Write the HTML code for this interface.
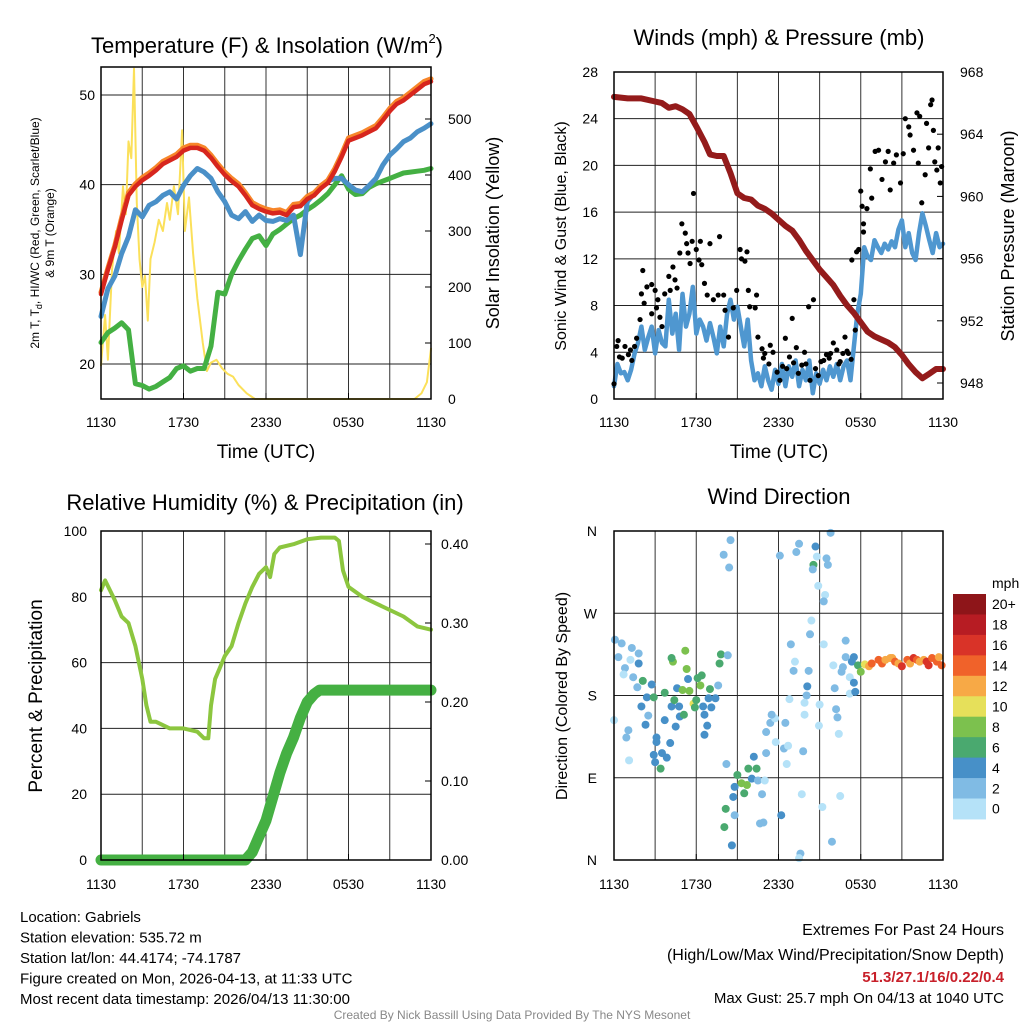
<!DOCTYPE html>
<html><head><meta charset="utf-8"><style>
html,body{margin:0;padding:0;background:#fff;}
svg{display:block;font-family:"Liberation Sans",sans-serif;}
</style></head><body>
<svg id="c" width="1024" height="1024" viewBox="0 0 1024 1024" xmlns="http://www.w3.org/2000/svg"></svg>
<script>
// ---------- DATA ----------
const hourTicks = ["1130","1730","2330","0530","1130"];
const tempTicks = [20,30,40,50];
const solarTicks = [0,100,200,300,400,500];
const windTicks = [0,4,8,12,16,20,24,28];
const presTicks = [948,952,956,960,964,968];
const rhTicks = [0,20,40,60,80,100];
const precTicks = [0,0.1,0.2,0.3,0.4];
const precTickLabels = ["0.00","0.10","0.20","0.30","0.40"];
const dirTicks = [0,90,180,270,360];
const dirTickLabels = ["N","E","S","W","N"];
const speedBinLabels = ["0","2","4","6","8","10","12","14","16","18","20+"];
const speedColors = ["#b5e2f8","#80bbe4","#4790c8","#4aa96f","#7cc14e","#e6e05a","#f7a946","#f0622a","#d93328","#b71c23","#8e1519"];

// temperature series, every 0.5 h from 1130
const tempRed = [27.8,30.5,33,36,38.8,39.8,40.5,41,41.6,42.3,42.7,43.1,43.8,44.1,44.1,43.8,43,42,41.1,40.4,39.8,38.8,37.7,37.3,37,36.8,36.9,36.6,37.5,37.6,38.4,38.8,39.6,40.2,41.5,43.1,44.9,45.2,45.5,45.9,46.3,47.2,48.2,49,49.4,50,50.6,51.2,51.5];
const tempOrange = [28,30.7,33.2,36.3,39.1,40.1,40.8,41.3,41.9,42.6,43,43.4,44.1,44.4,44.4,44.1,43.3,42.3,41.4,40.7,40.1,39.1,38,37.6,37.3,37.1,37.2,36.9,37.8,37.9,38.7,39.1,39.9,40.5,41.8,43.4,45.2,45.5,45.8,46.2,46.6,47.5,48.5,49.3,49.7,50.3,50.9,51.5,51.8];
const tempBlue = [25.3,28.4,29.8,32.3,34.2,37.2,36.4,37.7,38.1,38.8,39.2,38.4,39.9,41,41.8,41.4,40.7,39.2,38.1,36.6,36.2,37,35.9,36.6,36,35.9,36.2,36,36.6,32.2,38.1,39,39.9,40.4,40.7,40.7,40,39.4,39.2,39.9,40.7,42.2,43.3,44,44.8,45.2,45.9,46.3,46.8];
const tempGreen = [22.4,23.5,24,24.6,23.8,17.8,17.6,17.2,17.5,18,18.5,19.5,19.8,19.2,19.5,19.5,22,28,27.8,30,31.5,32.8,34,34.3,33.2,34.5,35,35.6,36.2,36.6,37.2,37.7,38.3,39,40,41,39.5,38.9,39,39.7,40.1,40.4,40.7,41,41.3,41.4,41.5,41.6,41.8];
const solarHours = [0,0.3,0.5,0.8,1.1,1.3,1.6,1.8,2.0,2.2,2.4,2.6,2.8,3.0,3.2,3.4,3.6,3.9,4.2,4.5,4.8,5.0,5.3,5.6,5.9,6.1,6.4,6.7,7.0,7.4,7.7,8.0,8.4,8.8,9.2,9.6,10.0,10.6,11.2,22.8,23.3,23.7,24];
const solarVals = [60,150,70,230,300,260,380,330,460,430,590,350,250,200,220,140,250,280,320,300,350,320,380,330,480,300,360,260,180,100,50,65,70,55,45,40,25,10,0,0,10,30,90];

// wind (mph), every 0.25 h
const windSpeed = [1.1,3,2.2,2.3,1.6,2.5,3.9,4.8,6.2,4.2,5.3,6.2,3.9,5.9,4.8,4.5,8.5,5.6,7.3,4.2,9,6.2,7.3,9.6,5.6,6.8,6.2,5,6.5,5.3,3.9,6.2,4.5,7.3,8.5,6.8,7.9,6.2,4.5,6.8,3.3,1.6,2.2,1.1,2.8,1.6,0.8,2.5,1.3,3,1.1,2.8,1.9,3.3,1.1,2.5,1.6,3.3,0.5,2.2,1.3,2.5,1.6,2.8,1.9,3,1.6,2.8,3.3,1.6,4.5,7.3,9,13,12.2,11.9,13.6,13,12.5,13.3,12.8,13.5,13,14.5,15.3,13,14.2,12.5,11.9,14.2,15.9,14.8,13.6,12.5,14.2,13,13.3];
const gustHours = [
0,0.2,0.4,0.3,0.8,1.05,1.3,1.5,1.65,1.9,
2.0,2.1,2.4,2.75,3.0,2.75,3.2,3.35,3.5,3.7,
4.0,4.1,4.3,4.45,4.6,4.8,4.95,5.2,5.3,5.4,
5.55,5.8,5.7,6.0,6.3,6.2,6.4,6.6,6.8,7.0,
7.25,7.7,7.6,8.0,8.1,8.35,8.7,8.95,9.2,9.3,
9.55,9.7,9.8,9.9,10.3,10.4,10.5,10.8,11.0,11.3,
11.6,11.9,12.1,12.5,12.6,13.0,13.1,13.45,13.7,13.9,
14.2,14.55,14.3,14.9,15.3,15.5,15.8,16.0,16.25,16.5,
16.7,16.85,17.1,17.35,17.5,17.6,17.7,17.85,18.0,18.1,
18.2,18.2,18.45,18.8,18.7,19.05,19.3,19.55,19.8,20.0,
20.15,20.4,20.6,20.9,21.1,21.25,21.5,21.6,21.85,22.1,
22.2,22.3,22.45,22.7,22.8,22.95,23.1,23.2,23.3,23.4,
23.55,23.65,23.8,23.9,0.6,1.2,2.2,3.1,10.9,11.4,
12.3,12.8,13.3,14.0,14.7,15.1,15.7,16.4,17.0,17.3];
const gustVals = [
1.3,4.5,3.6,5,4.5,3.8,3.3,4.5,5.2,6.8,
9,11,9.6,9.8,9.3,7.3,8.5,7,6.2,9,
10.5,9.3,11.3,10.2,9.5,12.5,15,14.2,13.3,12.5,
11.6,17.6,13.5,12.8,13.5,11.9,11.5,9.9,8.9,13.3,
8.5,13.9,8.9,8.9,7.6,5.3,7.8,9.3,12.8,12,
11.8,12.6,9.3,7.9,7.8,8.9,5.3,4.3,3.9,3,
4,2.3,1.6,5.2,2.6,6.9,3.1,2.2,2.9,4,
7.9,8.5,1.6,2,3.3,3.8,3.9,4.8,4.2,3.2,
3.9,5.3,3.9,11.9,8.5,5.9,12.6,12.8,17.8,16.5,
15,14.3,16.3,17.2,19.7,21.2,21.3,18.8,20.3,21.2,
17.9,20.2,20.9,18.5,21,24,23.3,22.6,21.3,24.5,
20.2,24.2,16.8,19.2,23.6,21.5,25.2,25.6,23,20.3,
19.6,21.5,18.5,19.9,3.5,4.2,8.2,7.8,3.5,4.6,
2.8,3.6,4.4,3.0,2.6,3.2,3.5,3.0,4.1,3.4];
const presHours = [0,1,2,3,3.5,4,4.5,5,5.5,6,6.6,7,7.5,8,8.5,9,9.5,10,10.5,11,11.5,12,12.5,13,13.5,14,14.5,15,15.5,16,16.5,17,17.5,18,18.5,19,19.5,20,20.5,21,21.5,22,22.5,23,23.5,24];
const presVals = [966.4,966.3,966.3,966.1,966.0,965.7,965.8,965.6,965.3,964.5,963.5,962.7,962.6,962.6,961.5,960.2,959.9,959.8,959.4,959.2,958.9,958.5,958.1,957.8,957.2,956.5,955.9,955.3,954.8,954.3,953.6,953.0,952.5,951.9,951.3,951.0,950.8,950.6,950.3,949.8,949.2,948.7,948.3,948.6,948.9,948.9];

// RH and precip
const rhHours = [0,0.3,1,1.5,2,2.5,3,3.3,3.6,4,5,6,7,7.5,7.8,8.0,8.3,8.6,9,9.5,10,10.5,11,11.5,12,12.3,12.6,13,14,15,16,17,17.3,17.6,18,19,20,21,22,23,24];
const rhVals = [82,85,79,74,72,65,55,47,42,42,40,40,39,37,37,47,55,58,62,65,72,78,83,87,89,86,93,95,96,97.5,98,98,97,88,83,80,78,76,74,71,70];
const precHours = [0,10.5,11,11.5,12,12.5,13,13.5,14,14.5,15,15.5,15.9,24];
const precVals = [0,0,0.01,0.03,0.05,0.08,0.11,0.135,0.155,0.18,0.2,0.21,0.215,0.215];

// wind direction observations
const dirHours = [
0.07,0.56,0.32,1.3,1.8,1.2,0.8,0.7,1.8,1.4,
1.7,2.1,2.75,2.4,2.0,2.5,2.3,0,1.05,0.9,
1.1,3.1,3.1,2.9,3.5,3.85,3.0,3.4,4.1,3.7,
4.5,4.8,4.2,3.7,2.9,4.4,5.1,4.75,4.6,5.0,
5.4,5.5,5.8,6.0,5.9,6.3,6.4,6.1,7.0,6.9,
7.4,7.1,6.5,6.6,6.8,6.6,7.6,7.7,7.8,5.2,
4.3,4.2,5.3,8.3,8.0,8.5,8.4,8.2,9.0,9.3,
9.7,9.8,10.2,10.4,10.05,8.8,8.7,9.5,8.15,8.8,
8.05,8.6,10.5,10.8,11.0,11.1,10.65,10.9,11.1,11.4,
11.75,11.5,12.5,11.8,12.4,12.7,12.6,12.2,13.7,13.6,
13.5,13.8,12.1,13.5,13.3,14.7,14.55,14.5,14.8,14.9,
15.5,15.6,15.8,15.4,15.3,14.4,14.3,12.9,13.2,13.1,
14.2,14.1,14.05,13.9,12.8,13.9,15.0,14.95,15.3,16.9,
16.0,16.1,16.2,16.3,16.4,16.5,15.2,15.9,16.9,16.7,
16.6,17.2,17.2,17.5,17.35,17.5,17.6,17.8,18.0,18.3,
18.6,18.8,19.3,19.55,19.8,20.15,20.3,20.5,20.75,21.0,
21.4,21.6,21.85,22.1,22.3,22.6,22.8,22.95,23.2,23.55,
23.7,23.9];
const dirDegs = [
241,237,222,232,226,219,210,203,215,200,
189,196,192,178,168,158,148,153,142,134,
109,134,129,115,117,112,107,100,128,153,
146,157,168,183,178,175,159,168,188,186,
198,185,171,175,167,191,202,199,187,177,
177,167,168,159,147,137,191,215,225,229,
217,221,209,224,334,350,320,105,93,84,
82,100,113,100,89,80,69,73,56,49,
36,16,87,72,87,117,40,41,140,150,
155,159,150,129,122,125,105,49,72,7,
2,119,333,346,337,343,323,318,332,300,
330,323,358,290,283,262,247,236,217,207,
207,190,180,172,176,159,170,147,236,240,
213,188,165,156,138,70,58,20,222,211,
206,200,182,222,217,194,184,213,206,214,
212,215,219,215,219,221,221,217,215,212,
219,215,221,219,217,219,217,213,221,217,
222,213];
const dirSpeeds = [
2,2,2,2,2,1,2,0,4,2,
2,6,4,4,4,2,4,1,2,2,
0,4,4,4,4,4,4,6,4,4,
4,4,4,6,6,6,6,4,4,8,
4,8,10,6,6,8,6,6,6,4,
4,4,4,4,4,4,2,6,6,8,
8,6,8,2,2,2,2,2,6,8,
8,6,4,6,4,4,4,6,6,2,
6,4,2,2,0,2,2,2,2,2,
1,2,2,0,2,0,0,4,0,2,
0,2,2,2,2,4,6,2,1,1,
2,2,2,1,2,1,2,2,1,2,
2,4,2,1,1,1,1,1,1,2,
1,2,2,2,1,1,1,2,2,2,
2,1,1,4,4,4,4,6,8,10,
12,14,14,15,13,13,12,14,13,16,
14,12,16,14,13,12,16,16,15,14,
13,15];

// ---------- HELPERS ----------
const NS = "http://www.w3.org/2000/svg";
const svg = document.getElementById("c");
function mk(tag, attrs, parent) {
  const e = document.createElementNS(NS, tag);
  for (const k in attrs) e.setAttribute(k, attrs[k]);
  (parent || svg).appendChild(e);
  return e;
}
function txt(s, x, y, size, anchor, extra) {
  const t = mk("text", Object.assign({x: x, y: y, "font-size": size, "text-anchor": anchor || "middle", fill: "#000"}, extra || {}));
  t.textContent = s;
  return t;
}
function pathFrom(xs, ys) {
  let d = "";
  for (let i = 0; i < xs.length; i++) d += (i ? "L" : "M") + xs[i].toFixed(1) + "," + ys[i].toFixed(1);
  return d;
}
function frame(p, name) {
  const g = mk("g", {});
  
  
  for (let h = 3; h < 24; h += 3) {
    const x = p.x0 + h * (p.x1 - p.x0) / 24;
    const l = mk("line", {x1: x, x2: x, y1: p.y0, y2: p.y1, stroke: "#333", "stroke-width": 1}, g);
    
    
  }
  return g;
}
function hline(g, p, y) {
  const l = mk("line", {x1: p.x0, x2: p.x1, y1: y, y2: y, stroke: "#222", "stroke-width": 1}, g);
  
  
}
function border(p) {
  const r = mk("rect", {x: p.x0, y: p.y0, width: p.x1 - p.x0, height: p.y1 - p.y0, fill: "none", stroke: "#000", "stroke-width": 1.5});
  
  
}
function xTicks(p, ly) {
  hourTicks.forEach((s, i) => {
    const x = p.x0 + i * 6 * (p.x1 - p.x0) / 24;
    const t = txt(s, x, ly, 14);
    
    
    const tk = mk("line", {x1: x, x2: x, y1: p.y1, y2: p.y1 - 6, stroke: "#000"});
    
    
  });
}
function seriesPath(d, color, width, name, extra) {
  const e = mk("path", Object.assign({d: d, fill: "none", stroke: color, "stroke-width": width, "stroke-linejoin": "round", "stroke-linecap": "round"}, extra || {}));
  
  
  return e;
}

// ---------- PANEL 1 ----------
const P1 = {x0: 101, x1: 431, y0: 67, y1: 399};
const x1f = h => P1.x0 + h * (P1.x1 - P1.x0) / 24;
const yT = v => 364 - (v - 20) * 8.967;
const yS = v => 399 - v * 0.56;
const g1 = frame(P1, "temperature-grid");
tempTicks.forEach(v => hline(g1, P1, yT(v)));
const halfH = tempRed.map((_, i) => i * 0.5);
seriesPath(pathFrom(solarHours.map(x1f), solarVals.map(yS)), "#fbe05a", 2, "solar-insolation-line");
seriesPath(pathFrom(halfH.map(x1f), tempGreen.map(yT)), "#44b043", 5, "dewpoint-line");
seriesPath(pathFrom(halfH.map(x1f), tempBlue.map(yT)), "#4a90c8", 5, "wind-chill-line");
seriesPath(pathFrom(halfH.map(x1f), tempOrange.map(yT)), "#f7862a", 5, "9m-temperature-line");
seriesPath(pathFrom(halfH.map(x1f), tempRed.map(yT)), "#d7261e", 4.5, "2m-temperature-line");
border(P1);
tempTicks.forEach(v => {
  const t = txt(String(v), 95, yT(v) + 5, 14, "end");
  
  
});
solarTicks.forEach(v => {
  const t = txt(String(v), 448, yS(v) + 5, 14, "start");
  
  
  const tk = mk("line", {x1: P1.x1, x2: P1.x1 - 6, y1: yS(v), y2: yS(v), stroke: "#000"});
  
  
});
xTicks(P1, 427);
let t;
t = mk("text", {x: 267, y: 53, "font-size": 22, "text-anchor": "middle"});
t.innerHTML = 'Temperature (F) &amp; Insolation (W/m<tspan font-size="13" dy="-10">2</tspan><tspan dy="10">)</tspan>';


t = txt("Time (UTC)", 266, 458, 19);


t = mk("text", {transform: "translate(39,233) rotate(-90)", "font-size": 12, "text-anchor": "middle"});
t.innerHTML = '2m T, T<tspan font-size="9" dy="3">d</tspan><tspan dy="-3">, HI/WC (Red, Green, Scarlet/Blue)</tspan>';


t = txt("& 9m T (Orange)", 0, 0, 12, "middle", {transform: "translate(54,233) rotate(-90)"});


t = txt("Solar Insolation (Yellow)", 0, 0, 18, "middle", {transform: "translate(499,233) rotate(-90)"});



// ---------- PANEL 2 ----------
const P2 = {x0: 614, x1: 943, y0: 72, y1: 399};
const x2f = h => P2.x0 + h * (P2.x1 - P2.x0) / 24;
const yW = v => 399 - v * 11.68;
const yP = v => 383 - (v - 948) * 15.55;
const g2 = frame(P2, "wind-grid");
windTicks.forEach(v => hline(g2, P2, yW(v)));
const qH = windSpeed.map((_, i) => i * 0.25);
seriesPath(pathFrom(qH.map(x2f), windSpeed.map(yW)), "#4f97d0", 4.5, "wind-speed-line");
gustHours.forEach((h, i) => {
  const c = mk("circle", {cx: x2f(h), cy: yW(gustVals[i]), r: 2.6, fill: "#000"});
  
  
});
seriesPath(pathFrom(presHours.map(x2f), presVals.map(yP)), "#941b1b", 6, "pressure-line");
border(P2);
windTicks.forEach(v => {
  const t = txt(String(v), 598, yW(v) + 5, 14, "end");
  
  
});
presTicks.forEach(v => {
  const t = txt(String(v), 960, yP(v) + 5, 14, "start");
  
  
  const tk = mk("line", {x1: P2.x1, x2: P2.x1 - 6, y1: yP(v), y2: yP(v), stroke: "#000"});
  
  
});
xTicks(P2, 427);
t = txt("Winds (mph) & Pressure (mb)", 779, 45, 22);


t = txt("Time (UTC)", 779, 458, 19);


t = txt("Sonic Wind & Gust (Blue, Black)", 0, 0, 16, "middle", {transform: "translate(566,236) rotate(-90)"});


t = txt("Station Pressure (Maroon)", 0, 0, 18, "middle", {transform: "translate(1014,236) rotate(-90)"});



// ---------- PANEL 3 ----------
const P3 = {x0: 101, x1: 431, y0: 531, y1: 860};
const x3f = h => P3.x0 + h * (P3.x1 - P3.x0) / 24;
const yR = v => 860 - v * 3.29;
const yPr = v => 860 - v * 790;
const g3 = frame(P3, "humidity-grid");
rhTicks.forEach(v => hline(g3, P3, yR(v)));
seriesPath(pathFrom(precHours.map(x3f), precVals.map(yPr)), "#45b043", 11, "precipitation-line");
seriesPath(pathFrom(rhHours.map(x3f), rhVals.map(yR)), "#8cc63f", 4, "relative-humidity-line");
border(P3);
rhTicks.forEach(v => {
  const t = txt(String(v), 87, yR(v) + 5, 14, "end");
  
  
});
precTicks.forEach((v, i) => {
  const t = txt(precTickLabels[i], 441, yPr(v) + 5, 14, "start");
  
  
  const tk = mk("line", {x1: P3.x1, x2: P3.x1 - 6, y1: yPr(v), y2: yPr(v), stroke: "#000"});
  
  
});
xTicks(P3, 889);
t = txt("Relative Humidity (%) & Precipitation (in)", 265, 510, 22);


t = txt("Percent & Precipitation", 0, 0, 19, "middle", {transform: "translate(42,696) rotate(-90)"});



// ---------- PANEL 4 ----------
const P4 = {x0: 614, x1: 943, y0: 531, y1: 860};
const x4f = h => P4.x0 + h * (P4.x1 - P4.x0) / 24;
const yD = d => 860 - d * (329 / 360);
const g4 = frame(P4, "direction-grid");
dirTicks.forEach(v => hline(g4, P4, yD(v)));
dirHours.forEach((h, i) => {
  const bin = Math.min(10, Math.floor((dirSpeeds[i] || 0) / 2));
  const c = mk("circle", {cx: x4f(h), cy: yD(dirDegs[i]), r: 4, fill: speedColors[bin]});
  
  
});
border(P4);
dirTicks.forEach((v, i) => {
  const t = txt(dirTickLabels[i], 597, yD(v) + 5, 14, "end");
  
  
});
xTicks(P4, 889);
t = txt("Wind Direction", 779, 504, 22);


t = txt("Direction (Colored By Speed)", 0, 0, 16, "middle", {transform: "translate(567,696) rotate(-90)"});


// colorbar
const cbTop = 594, cbH = 20.45;
for (let i = 0; i < 11; i++) {
  const bin = 10 - i;
  const r = mk("rect", {x: 953, y: cbTop + i * cbH, width: 33, height: cbH + 0.5, fill: speedColors[bin]});
  
  
  const l = txt(speedBinLabels[bin], 992, cbTop + i * cbH + cbH / 2 + 5, 14, "start");
  
  
}
t = txt("mph", 992, 588, 14, "start");



// ---------- FOOTER TEXT ----------
const infoLines = ["Location: Gabriels","Station elevation: 535.72 m","Station lat/lon: 44.4174; -74.1787","Figure created on Mon, 2026-04-13, at 11:33 UTC","Most recent data timestamp: 2026/04/13 11:30:00"];
infoLines.forEach((s, i) => {
  const t = txt(s, 20, 922 + i * 20.5, 15, "start");
  
  
});
t = txt("Extremes For Past 24 Hours", 1004, 935, 16, "end");


t = txt("(High/Low/Max Wind/Precipitation/Snow Depth)", 1004, 960, 16, "end");


t = txt("51.3/27.1/16/0.22/0.4", 1004, 982, 15, "end", {fill: "#c8202a", "font-weight": "bold"});


t = txt("Max Gust: 25.7 mph On 04/13 at 1040 UTC", 1004, 1003, 15, "end");


t = txt("Created By Nick Bassill Using Data Provided By The NYS Mesonet", 512, 1019, 12, "middle", {fill: "#888"});


</script>
</body></html>
